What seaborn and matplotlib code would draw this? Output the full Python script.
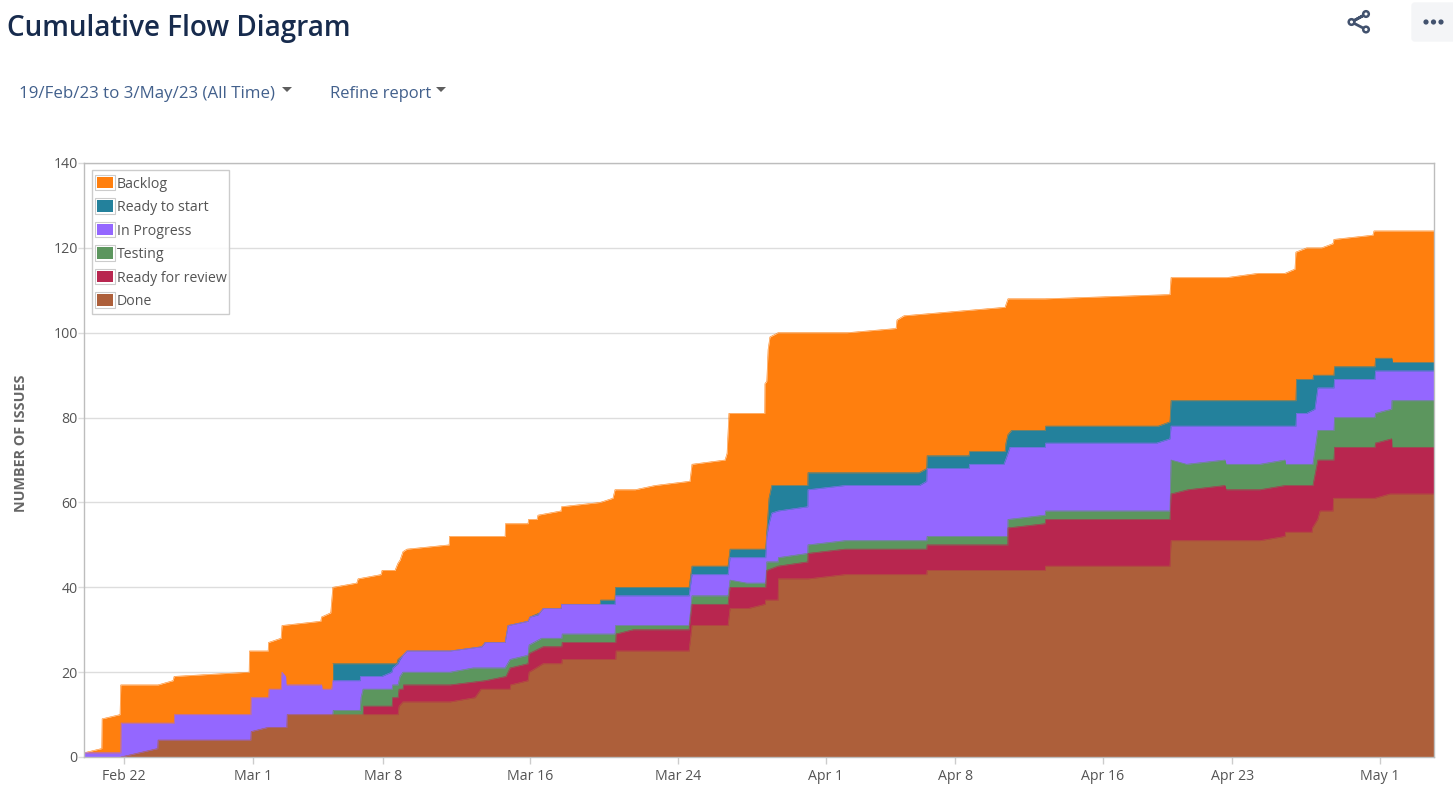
import matplotlib
matplotlib.use("Agg")
import matplotlib.pyplot as plt
import seaborn as sns
from matplotlib.patches import Rectangle, FancyBboxPatch, Patch, Polygon, Circle
from matplotlib.legend_handler import HandlerBase
from matplotlib.ticker import FixedLocator, FixedFormatter

# Days are counted from 22 Feb 2023; each series is the top edge of its stacked band.
backlog_days = [-2.17,-1.21,-1.19,-0.22,-0.18,1.84,2.65,2.71,6.77,6.79,7.80,7.82,8.50,8.55,10.65,10.69,11.19,11.30,
    12.60,12.67,13.91,13.97,14.67,14.83,14.94,15.10,15.32,17.60,17.62,20.63,20.65,21.87,21.90,22.36,22.41,23.66,23.69,
    25.77,26.47,26.58,27.67,28.75,30.64,30.75,32.54,32.65,32.75,34.69,34.70,34.80,34.87,34.97,35.41,39.13,41.80,41.85,
    42.23,47.70,47.86,49.87,56.63,56.69,59.70,61.40,62.86,63.40,63.45,64.03,64.84,65.46,65.51,67.62,67.68,70.93]
backlog_top = [1,2,9,10,17,17,18,19,20,25,25,27,28,31,32,33,34,40,
    41,42,43,44,44,45.7,46.4,48.4,49,50,52,52,55,55,56,56,57,58,59,
    60,61,63,63,64,65,69,70,71.6,81,81,88,88.6,96,99,100,100,101,103,
    104,106,108,108,109,113,113,114,114,115,119,120,120,121,122,123,124,124]

ready_days = [11.30,14.76,14.83,15.10,15.32,17.65,19.37,19.55,20.63,20.79,21.87,21.98,22.52,22.69,23.66,23.69,25.77,25.80,
    26.58,26.61,30.59,30.75,32.70,32.81,34.74,34.92,35.07,37.02,37.03,43.04,43.46,43.48,45.75,45.78,47.70,47.75,47.86,48.06,
    49.87,49.90,56.00,56.63,56.69,63.45,63.48,64.37,64.40,65.51,65.54,67.73,67.76,68.65,68.68,70.93]
ready_top = [22,22,23,24,25,25,26,27,27,31,32,33,34,35,35,36,36,37,
    37,40,40,45,45,49,49,61,64,64,67,67,68,71,71,72,72,74,76,77,
    77,78,78,79,84,84,89,89,90,90,92,92,94,94,93,93]

progress_days = [-2.17,-0.18,-0.16,2.71,2.73,6.86,6.88,7.83,7.85,8.50,8.55,8.75,8.77,10.70,10.72,11.24,11.30,12.78,12.80,
    13.95,14.49,14.56,14.83,14.94,15.10,15.32,17.65,19.37,19.55,20.63,20.79,21.87,21.98,22.41,22.69,23.66,23.69,26.58,26.61,
    30.59,30.75,32.70,32.81,34.74,34.80,34.92,35.07,35.41,37.02,37.03,39.04,43.06,43.46,43.48,45.75,45.78,47.64,47.81,47.97,
    49.87,49.90,55.91,56.63,56.69,63.45,63.48,64.03,64.48,64.64,65.51,65.54,67.73,67.76,70.93]
progress_top = [1,1,8,8,10,10,14,14,16,16,20,19,17,17,16,16,18,18,19,
    19,20,21,22,23,24,25,25,26,27,27,31,32,33,33.5,35,35,36,36,38,
    38,43,43,47,47,52,55,57.5,58,59,63,64,64,65,68,68,69,69,71,73,
    73,74,74,75,78,78,81,81,82,87,87,89,89,91,91]

testing_days = [11.30,11.32,12.78,12.83,12.94,14.51,14.54,14.83,14.94,15.10,17.65,18.90,20.63,20.90,21.87,21.93,22.61,23.70,23.72,
    26.58,26.61,30.59,30.75,32.70,32.81,33.71,34.74,34.80,35.41,35.43,37.02,37.03,39.04,43.46,43.48,47.85,47.86,49.87,49.90,
    56.63,56.69,57.53,59.61,59.67,61.50,62.86,62.89,64.37,64.64,65.51,65.54,67.73,67.76,68.64,68.65,70.93]
testing_top = [10,11,11,14,16,16,17,17,19,20,20,21,21,23,24,26.4,28,28,29,
    29,31,31,38,38,41.7,41,41,46,46,47,48,50,51,51,52,52,56,57,58,
    58,70,69,70,69,69,70,69,69,77,77,80,80,81,82,84,84]

review_days = [12.94,12.97,14.51,14.54,14.83,14.89,15.10,15.13,17.65,19.55,20.68,20.90,21.87,21.93,22.69,23.70,23.72,26.62,26.64,27.56,
    30.59,30.75,32.70,32.81,34.74,34.80,35.41,37.02,37.03,39.04,43.46,43.48,47.85,47.86,49.87,49.90,56.63,56.69,57.61,59.61,59.67,
    61.50,62.86,64.37,64.64,65.51,65.54,67.73,67.76,68.64,68.65,70.93]
review_top = [10,12,12,14,14,16,16,17,17,18,19,21,22,24.4,26,26,27,27,29,30,
    30,36,36,40,40,44,45,46,48,49,49,50,50,54,55,56,56,62,63,64,63,
    63,64,64,70,70,73,73,74,75,73,73]

done_days = [-0.18,1.82,1.84,6.86,6.88,7.80,8.81,8.83,14.83,14.89,15.10,17.65,19.00,19.33,20.90,20.93,21.87,21.93,22.69,23.70,23.72,
    26.62,26.64,30.59,30.75,32.70,32.81,33.78,34.71,34.74,35.41,35.43,37.04,39.04,43.46,43.48,49.87,49.90,56.63,56.69,61.50,
    62.86,62.89,64.32,64.35,64.63,64.76,65.46,65.49,67.73,68.54,70.93]
done_top = [0,2,4,4,6,7,7,10,10,12,13,13,14,16,16,17,18,20,22,22,23,
    23,25,25,31,31,35,35,36,37,37,42,42,43,43,44,44,45,45,51,51,
    52,53,53,54,56,58,58,61,61,62,62]

labels = ["Backlog", "Ready to start", "In Progress", "Testing", "Ready for review", "Done"]
colors = ["#FF7F0E", "#23819C", "#9467FF", "#5C965E", "#B8264F", "#AD5F3A"]
series = [(backlog_days, backlog_top), (ready_days, ready_top), (progress_days, progress_top),
          (testing_days, testing_top), (review_days, review_top), (done_days, done_top)]

tick_days = [0, 7, 14, 22, 30, 38, 45, 53, 60, 68]
tick_labels = ["Feb 22", "Mar 1", "Mar 8", "Mar 16", "Mar 24", "Apr 1", "Apr 8", "Apr 16", "Apr 23", "May 1"]
y_ticks = [0, 20, 40, 60, 80, 100, 120, 140]

W, H = 1453, 799
sns.set_theme(style="white")
plt.rcParams["font.family"] = ["Open Sans", "DejaVu Sans"]

fig = plt.figure(figsize=(W / 100, H / 100), dpi=100, facecolor="white")
ax = fig.add_axes([84 / W, 1 - 757 / H, (1434 - 84) / W, (757 - 163) / H])
ax.set_facecolor("white")

handles = []
for (d, v), c, lab in zip(series, colors, labels):
    ax.fill_between(d, 0, v, color=c, lw=0, zorder=2)
    sns.lineplot(x=d, y=v, ax=ax, color=c, lw=0.4, estimator=None, sort=False, errorbar=None, legend=False, zorder=2)
    handles.append(Patch(facecolor=c, label=lab))

ax.set_xlim(-2.17, 70.93)
ax.set_ylim(0, 140)
ax.xaxis.set_major_locator(FixedLocator(tick_days))
ax.xaxis.set_major_formatter(FixedFormatter(tick_labels))
ax.set_yticks(y_ticks)
ax.grid(axis="y", color="#DDDDDD", lw=1, zorder=0)
ax.set_axisbelow(True)
ax.tick_params(axis="x", length=5, width=1, color="#CCCCCC", labelcolor="#545454", labelsize=10.2, pad=4, bottom=True)
ax.tick_params(axis="y", length=4, width=1, color="#DDDDDD", labelcolor="#545454", labelsize=10.2, pad=0.5, left=True)
for s in ax.spines.values():
    s.set_color("#BDBDBD")
    s.set_linewidth(1)
ax.set_ylabel("NUMBER OF ISSUES", fontsize=10.4, fontweight="bold", color="#666666")
ax.yaxis.set_label_coords((28.5 - 84) / (1434 - 84), 0.5286)


class Swatch(HandlerBase):
    def create_artists(self, legend, orig, x, y, w, h, fs, trans):
        outer = Rectangle((x, y - 2.6), w, h + 2.8, fc="white", ec="#CCCCCC", lw=0.8, transform=trans)
        inner = Rectangle((x + 1.4, y - 1.2), w - 2.8, h, fc=orig.get_facecolor(), ec="none", transform=trans)
        return [outer, inner]


# Legend box drawn separately so its padding can differ per side.
ax.add_patch(Rectangle((91.5 / W, 1 - 313.5 / H), 138 / W, 144 / H, transform=fig.transFigure, clip_on=False,
                       fc=(1, 1, 1, 0.85), ec="#CCCCCC", lw=1, zorder=4))
leg = ax.legend(handles=handles, loc="upper left", bbox_to_anchor=(95 / W, 1 - 176.7 / H), bbox_transform=fig.transFigure,
                borderaxespad=0, fontsize=10.2, frameon=False,
                handler_map={Patch: Swatch()}, handlelength=1.42, handleheight=0.88, handletextpad=0.14,
                labelspacing=0.6, borderpad=0, labelcolor="#545454")
leg.set_zorder(5)

# Page furniture around the chart, placed in pixel coordinates.
page = fig.add_axes([0, 0, 1, 1], zorder=10)
page.set_xlim(0, W)
page.set_ylim(H, 0)
page.axis("off")
page.patch.set_alpha(0)
page.text(7, 28.5, "Cumulative Flow Diagram", fontsize=20.1, fontweight="semibold", color="#172B4D", va="center")
page.text(19, 94, "19/Feb/23 to 3/May/23 (All Time)", fontsize=12.15, color="#42608C", va="center")
page.text(330, 94, "Refine report", fontsize=11.9, color="#42608C", va="center")
for cx in (287, 441):
    page.add_patch(Polygon([(cx - 5, 87), (cx + 5, 87), (cx, 92)], fc="#5E5E5E", ec="none"))
ic = "#42526E"
page.plot([1351.5, 1366, 1351.5, 1366], [22, 14, 22, 29.5], color=ic, lw=2)
for px, py in ((1366, 14), (1351.5, 22), (1366, 29.5)):
    page.add_patch(Circle((px, py), 2.8, fc="white", ec=ic, lw=1.8, zorder=3))
page.add_patch(FancyBboxPatch((1412, 3), 44, 38, boxstyle="round,pad=0,rounding_size=3", fc="#F4F5F7", ec="#F4F5F7", lw=1))
for px in (1426, 1433.5, 1441):
    page.add_patch(Circle((px, 22), 2.6, fc=ic, ec="none", zorder=3))

fig.savefig("out.png", dpi=100)
